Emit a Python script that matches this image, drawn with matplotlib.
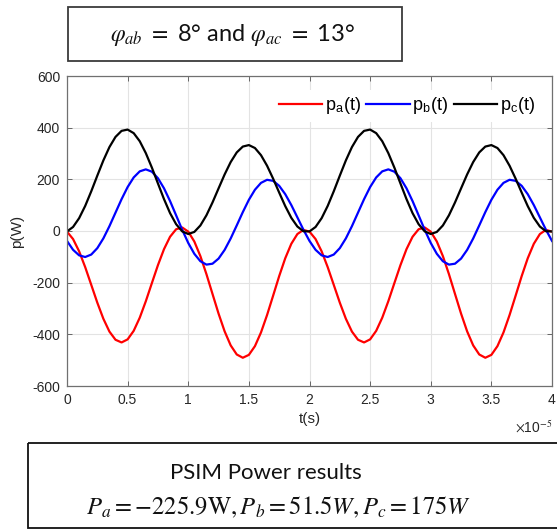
import numpy as np
import matplotlib
matplotlib.use('Agg')
import matplotlib.pyplot as plt
from matplotlib.patches import Rectangle

plt.rcParams['mathtext.fontset'] = 'stix'
plt.rcParams['axes.unicode_minus'] = False

# time samples (s)
t = np.linspace(0, 4e-5, 81)

pa = [-2.5, -31.2, -78.6, -139.8, -208.4, -277.4, -339.8, -389.4, -421.0, -431.4,
      -419.5, -386.5, -335.6, -271.9, -201.7, -132.2, -70.3, -22.3, 6.8, 13.7,
      -2.5, -40.6, -97.2, -167.0, -243.6, -319.8, -388.4, -442.8, -478.0, -490.6,
      -479.5, -445.7, -392.6, -325.3, -250.3, -174.6, -105.5, -49.5, -11.8, 4.3,
      -2.5, -31.2, -78.6, -139.8, -208.4, -277.4, -339.8, -389.4, -421.0, -431.4,
      -419.5, -386.5, -335.6, -271.9, -201.7, -132.2, -70.3, -22.3, 6.8, 13.7,
      -2.5, -40.6, -97.2, -167.0, -243.6, -319.8, -388.4, -442.8, -478.0, -490.6,
      -479.5, -445.7, -392.6, -325.3, -250.3, -174.6, -105.5, -49.5, -11.8, 4.3,
      -2.5]

pb = [-38.5, -72.8, -94.2, -100.7, -91.2, -66.4, -28.6, 18.7, 71.0, 123.1,
      170.1, 207.3, 230.9, 238.6, 229.6, 204.3, 165.3, 115.8, 60.6, 4.9,
      -46.3, -88.2, -117.0, -130.1, -126.6, -106.8, -73.2, -28.9, 21.6, 73.1,
      120.7, 159.7, 186.3, 198.2, 194.2, 174.9, 142.5, 100.4, 52.8, 4.9,
      -38.5, -72.8, -94.2, -100.7, -91.2, -66.4, -28.6, 18.7, 71.0, 123.1,
      170.1, 207.3, 230.9, 238.6, 229.6, 204.3, 165.3, 115.8, 60.6, 4.9,
      -46.3, -88.2, -117.0, -130.1, -126.6, -106.8, -73.2, -28.9, 21.6, 73.1,
      120.7, 159.7, 186.3, 198.2, 194.2, 174.9, 142.5, 100.4, 52.8, 4.9,
      -38.5]

pc = [-1.6, 15.6, 49.6, 97.0, 153.6, 214.3, 273.3, 324.9, 364.2, 387.6,
      392.6, 378.8, 347.5, 301.5, 245.4, 184.1, 123.5, 69.2, 26.3, -1.4,
      -11.6, -3.6, 21.4, 60.8, 110.4, 164.9, 218.9, 266.9, 304.2, 326.8,
      332.6, 321.2, 293.5, 252.7, 202.6, 148.7, 96.3, 51.0, 17.3, -1.0,
      -1.6, 15.6, 49.6, 97.0, 153.6, 214.3, 273.3, 324.9, 364.2, 387.6,
      392.6, 378.8, 347.5, 301.5, 245.4, 184.1, 123.5, 69.2, 26.3, -1.4,
      -11.6, -3.6, 21.4, 60.8, 110.4, 164.9, 218.9, 266.9, 304.2, 326.8,
      332.6, 321.2, 293.5, 252.7, 202.6, 148.7, 96.3, 51.0, 17.3, -1.0,
      -1.6]

series_labels = [r'p$_\mathregular{a}$(t)', r'p$_\mathregular{b}$(t)', r'p$_\mathregular{c}$(t)']
series_colors = ['#ff0000', '#0000ff', '#000000']

xtick_vals = [0, 0.5e-5, 1e-5, 1.5e-5, 2e-5, 2.5e-5, 3e-5, 3.5e-5, 4e-5]
xtick_labels = ['0', '0.5', '1', '1.5', '2', '2.5', '3', '3.5', '4']
ytick_vals = [-600, -400, -200, 0, 200, 400, 600]
ytick_labels = ['-600', '-400', '-200', '0', '200', '400', '600']

title_text = r'$\varphi_{ab}\ =$ 8° and $\varphi_{ac}\ =$ 13°'
result_line1 = 'PSIM Power results'
result_line2 = r'$P_a=-225.9\mathrm{W}, P_b=51.5W, P_c=175W$'

W, H = 557, 529
fig = plt.figure(figsize=(W / 100, H / 100), dpi=100)

ax = fig.add_axes([67 / W, (H - 386) / H, 485 / W, 310 / H])
for y, c, lab in zip([pa, pb, pc], series_colors, series_labels):
    ax.plot(t, y, color=c, lw=1.6, label=lab)

ax.set_xlim(0, 4e-5)
ax.set_ylim(-600, 600)
ax.set_xticks(xtick_vals)
ax.set_xticklabels(xtick_labels)
ax.set_yticks(ytick_vals)
ax.set_yticklabels(ytick_labels)
ax.grid(True, color='#e3e3e3', lw=0.8)
ax.set_axisbelow(True)
ax.tick_params(direction='in', length=3.5, width=0.7, colors='#666666',
               labelcolor='#262626', labelsize=10, top=True, right=True, pad=5)
for lbl in ax.get_xticklabels() + ax.get_yticklabels():
    lbl.set_family('Liberation Sans')
for s in ax.spines.values():
    s.set_color('#707070')
    s.set_linewidth(0.9)
ax.set_xlabel('t(s)', fontsize=11, family='Liberation Sans', color='#262626', labelpad=4)
ax.set_ylabel('p(W)', fontsize=11, family='Liberation Sans', color='#262626', labelpad=6)
ax.text(1.0, -0.135, r'$\times$10$^{-5}$', transform=ax.transAxes, ha='right', va='center',
        fontsize=10, color='#262626', family='Liberation Sans')

leg = ax.legend(loc='upper right', bbox_to_anchor=(0.995, 0.985), ncol=3, frameon=True,
                handlelength=2.4, handletextpad=0.15, columnspacing=0.3, borderpad=0.3,
                prop={'family': 'Liberation Sans', 'size': 13})
leg.get_frame().set_edgecolor('none')
leg.get_frame().set_facecolor('white')
leg.get_frame().set_alpha(1)

# overlay in pixel coordinates for annotation boxes
ov = fig.add_axes([0, 0, 1, 1])
ov.set_xlim(0, W)
ov.set_ylim(H, 0)
ov.axis('off')
ov.patch.set_alpha(0)
ov.add_patch(Rectangle((68, 7), 334, 54, fill=False, ec='#3a3a3a', lw=1.3))
ov.text(233, 35, title_text, ha='center', va='center', fontsize=17, family='Lato', color='#111111')
ov.add_patch(Rectangle((28, 443), 540, 85, fill=False, ec='#111111', lw=1.3, clip_on=False))
ov.text(266, 473, result_line1, ha='center', va='center', fontsize=16, family='Lato', color='#111111')
ov.text(279, 507, result_line2, ha='center', va='center', fontsize=17.7, color='#111111')

fig.savefig('out.png', dpi=100)
